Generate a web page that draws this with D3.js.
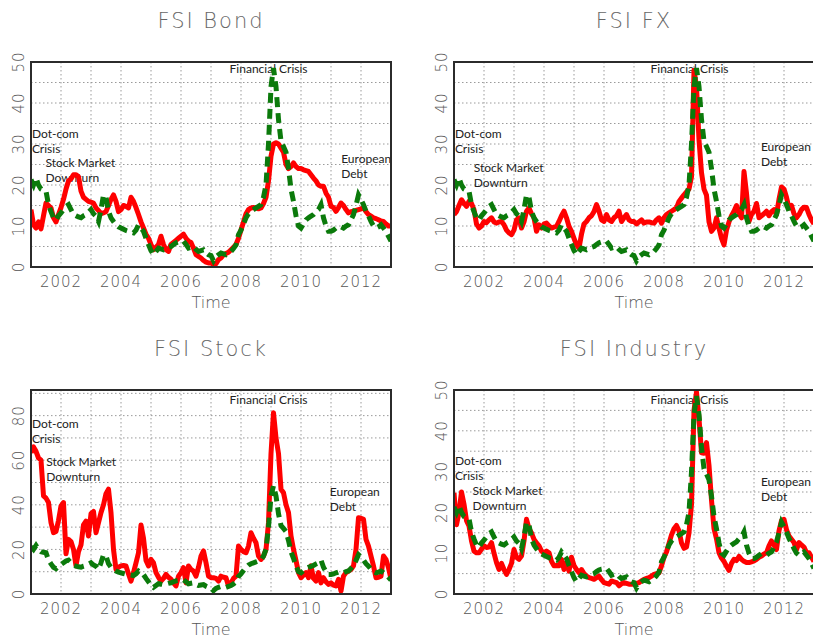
<!DOCTYPE html>
<html lang="en">
<head>
<meta charset="UTF-8">
<title>FSI panels</title>
<script src="https://d3js.org/d3.v7.min.js"></script>
<style>
  body { margin: 0; background: white; }
  .grid { stroke: #9a9a9a; stroke-width: 1px; stroke-dasharray: 1.5,2.5; fill: none; }
  .frame { stroke: #2b2b2b; stroke-width: 2px; fill: none; }
  .tick { font-family: "DejaVu Sans", sans-serif; font-weight: 300; font-size: 15px; fill: #555; letter-spacing: 1px; }
  .title { font-family: "DejaVu Sans", sans-serif; font-weight: 300; font-size: 21px; fill: #666; letter-spacing: 2px; }
  .xlab { font-family: "DejaVu Sans", sans-serif; font-weight: 300; font-size: 16px; fill: #555; }
  .note { font-family: Lato, "Open Sans", sans-serif; font-size: 12px; fill: #222; }
  .red { stroke: #ff0000; stroke-width: 5px; fill: none; stroke-linejoin: round; }
  .green { stroke: #0b7a0b; stroke-width: 5px; fill: none; stroke-dasharray: 10,6; }
</style>
</head>
<body>
<svg id="chart" width="813" height="644"></svg>
<script>
// monthly observations, Jan 2001 .. Jan 2013
const months = d3.range(145).map(i => 2001 + i / 12);

// overall FSI (green dashed, same in every panel)
const fsiAll = [
  21.3, 20, 21.7, 20, 19, 18.7, 18.5, 15.2, 13.5, 12, 11.4, 12.5,
  13.2, 14, 14.8, 15.2, 14, 12.8, 12.5, 12.2, 12, 12.5, 12.8, 13.4,
  14, 13, 12.4, 11.1, 14, 17.6, 17, 13.6, 12, 11.1, 10.3, 9.8,
  9.5, 9.2, 8.9, 8.7, 8.5, 8.3, 9, 10.3, 9.5, 8.7, 7, 5.5,
  4, 3, 3.8, 4.6, 4.4, 4.2, 4.5, 4.8, 5, 5.5, 5.9, 6.1,
  6.2, 6.3, 5.5, 4.6, 4.8, 5, 4.3, 3.8, 4, 4.2, 3.5, 3,
  2.8, 1.5, 2.5, 3, 3.4, 3.2, 3, 3.4, 3.8, 4.5, 5.4, 7.9,
  9, 10.5, 12, 13, 13.6, 14, 14.4, 14.8, 15.2, 17, 20, 30,
  44, 48.5, 44, 36, 30.7, 29.4, 28, 24, 19, 16, 12.5, 10,
  9.5, 10.5, 11.5, 12, 12.4, 12.8, 13.5, 14, 15.2, 12, 10, 8.7,
  8.7, 9, 9.5, 9.9, 9.8, 9.5, 10, 10.3, 11.5, 12.8, 15, 17.6,
  16.5, 15.2, 13.6, 12.5, 11.1, 10, 9.5, 9.8, 10.3, 9.5, 8.7, 7.5,
  6.3
];

// sector FSI (red solid)
const fsiBond = [
  14, 10.3, 9.5, 11, 9.3, 12.5, 15.6, 15, 14.4, 12, 11, 12.8,
  14.5, 16.5, 19, 21, 21.5, 22.5, 22.5, 22, 18.5, 17, 16.5, 16,
  15.8, 15.6, 14.4, 13.8, 13, 13.2, 13.5, 15, 16.5, 17.6, 16, 13.5,
  14, 15, 14.8, 14.4, 17, 16, 14.5, 12.8, 11, 9.5, 8, 7,
  5.5, 4.2, 4.8, 5.5, 7.5, 5.5, 4.2, 3.8, 5.5, 6, 6.5, 7,
  7.5, 8, 7, 6.3, 6, 4.6, 3, 2.6, 2.2, 1.6, 1.2, 1,
  1, 0.6, 0.8, 1.8, 2.2, 3, 3.3, 3.6, 4.2, 4.8, 5.5, 7,
  9, 11, 13, 14, 14.4, 14.5, 14.4, 14.2, 14.4, 15.5, 17, 21,
  27, 30, 30.3, 30, 29, 28, 25, 24, 24.5, 25.4, 24.5, 24,
  24, 23.7, 23.5, 23.3, 22.5, 21.7, 21, 20, 19.7, 19.7, 18, 17,
  14.8, 14.5, 13.6, 14.5, 15.6, 15, 14, 13.2, 13.5, 13.6, 13.8, 14,
  14.2, 14.4, 13.5, 12.8, 12.4, 12, 11.8, 11.5, 11.2, 11.1, 10.5, 10,
  10
];

const fsiFX = [
  12.8, 13.5, 15, 16.4, 15.5, 14.8, 16, 15.5, 14, 10.5, 9.5, 10,
  11.1, 10.8, 11.5, 12, 11, 10.7, 11, 11.1, 10.3, 9, 8.3, 7.9,
  9, 11.5, 12, 9.5, 11, 13.6, 14.4, 13, 12, 8.7, 10.3, 9.5,
  10.5, 10.7, 10, 9.5, 9.7, 9.9, 11.1, 12.5, 13.6, 12, 9.9, 8.7,
  7, 5.4, 4.6, 8, 10.5, 11.1, 12, 12.5, 13.5, 15.2, 13.6, 11.5,
  11.1, 12.8, 11.5, 11.1, 12, 12.5, 13.6, 11.1, 12, 12.8, 11.5, 11.1,
  11.1, 10.5, 11, 11.5, 10.7, 11, 11, 10.8, 10.7, 11.5, 12, 10.7,
  12, 12.8, 13.2, 13.6, 14, 14.4, 16, 16.8, 17.6, 18.3, 19, 22,
  48, 44, 31, 23, 19, 17.5, 11, 8.7, 9.5, 12, 9.5, 7,
  5.4, 9, 11, 12.5, 13.6, 15, 13, 12, 23.3, 18, 11.1, 12.8,
  13.6, 15.5, 12, 12.5, 13, 13.6, 12.5, 13.5, 14, 12.8, 16.5, 19.5,
  19, 17, 14.4, 15, 13, 12, 12.8, 14, 14.6, 14.5, 12.8, 11.5,
  10.5
];

const fsiStock = [
  63.4, 66, 64, 61, 60, 44, 43, 41, 32, 27.5, 28, 33,
  39.5, 41, 18, 24.5, 23.5, 20, 12.6, 19, 22, 31, 32.7, 26,
  36, 37, 27.5, 32, 36.5, 40, 45, 47, 36.5, 20, 11, 12,
  12.6, 12.8, 12.6, 9, 5.8, 9.6, 14, 18.5, 31, 25, 15, 12.6,
  15.5, 14, 9.6, 7.5, 5.8, 7, 8.8, 7.5, 6.6, 5, 3.6, 8,
  9.6, 11.8, 5, 12.6, 11, 10.3, 8, 12, 17, 19.3, 14, 8,
  7.3, 7.3, 7, 5.8, 8, 7.5, 7.3, 3.6, 5, 7, 8, 21.5,
  20, 19, 18.5, 21.5, 27.5, 25, 23, 17, 15.5, 17, 20, 32,
  63, 81.3, 70, 63, 47, 45.4, 40, 36.5, 26, 20, 15, 9.6,
  7.3, 8.5, 9.6, 7.3, 12.6, 7, 5.8, 9.6, 5, 7.3, 5.5, 4.3,
  5, 4, 3.6, 6.6, 1.3, 8, 9.6, 10.3, 11, 12.6, 20, 34.2,
  34, 33.5, 24.5, 21.5, 17, 12.6, 7.3, 7.5, 8, 17, 15.5, 11.8,
  6.6
];

const fsiIndustry = [
  24.8, 17, 20, 25, 22, 18, 16.7, 13, 10.5, 10.1, 10.1, 11,
  11.8, 11.4, 11.5, 12.6, 10, 7.7, 6, 7.5, 6, 4.8, 6, 7.5,
  10.9, 9, 8.5, 9.3, 13, 18.3, 16, 15, 13.4, 12.5, 11.8, 10.5,
  10.1, 10.5, 10.1, 8, 6.9, 7, 6.9, 8.5, 6, 7.7, 5.6, 9,
  7, 6, 5.2, 6, 5, 4.4, 4, 3.8, 3.6, 4, 4.4, 3.5,
  2.8, 2.6, 2.4, 3.2, 3, 2.8, 2, 2.5, 2.8, 2.6, 2.4, 2.4,
  2.4, 2.6, 2.8, 3.2, 3.6, 3.8, 4, 4.4, 4.8, 5, 5.2, 6.9,
  9, 10.3, 12.4, 14.5, 16, 16.8, 15.5, 12.5, 11.2, 11.5, 15, 22,
  45, 49.5, 43, 34.6, 34.5, 37.1, 31.5, 23, 16, 13.5, 10.1, 8.8,
  8, 6.8, 5.8, 7.5, 8.5, 8.2, 9.2, 8.5, 8, 7.7, 7.7, 7.9,
  8.1, 8.5, 9, 9.3, 9.8, 10.1, 11.8, 13, 12, 10.9, 15.5, 18,
  18.3, 15.8, 14.2, 13.4, 12.6, 10.9, 12.6, 12, 11.5, 10.1, 10.1, 9,
  8
];

const xTickYears = [2002, 2004, 2006, 2008, 2010, 2012];
const gridYears = d3.range(2002, 2013);

// annotation text, anchored in data units of each panel
const notesBond = [
  { lines: ["Dot-com", "Crisis"], x: 2001.03, y: 31.5 },
  { lines: ["Stock Market", "Downturn"], x: 2001.48, y: 24.4 },
  { lines: ["Financial Crisis"], x: 2007.62, y: 47.3 },
  { lines: ["European", "Debt"], x: 2011.34, y: 25.4 }
];
const notesFX = [
  { lines: ["Dot-com", "Crisis"], x: 2001.03, y: 31.5 },
  { lines: ["Stock Market", "Downturn"], x: 2001.66, y: 23.2 },
  { lines: ["Financial Crisis"], x: 2007.55, y: 47.3 },
  { lines: ["European", "Debt"], x: 2011.23, y: 28.3 }
];
const notesStock = [
  { lines: ["Dot-com", "Crisis"], x: 2001.03, y: 74.6 },
  { lines: ["Stock Market", "Downturn"], x: 2001.51, y: 57.4 },
  { lines: ["Financial Crisis"], x: 2007.62, y: 85.2 },
  { lines: ["European", "Debt"], x: 2010.96, y: 43.9 }
];
const notesIndustry = [
  { lines: ["Dot-com", "Crisis"], x: 2001.03, y: 31.5 },
  { lines: ["Stock Market", "Downturn"], x: 2001.62, y: 24.3 },
  { lines: ["Financial Crisis"], x: 2007.55, y: 46.6 },
  { lines: ["European", "Debt"], x: 2011.23, y: 26.5 }
];

const panels = [
  { title: "FSI Bond", red: fsiBond, notes: notesBond, left: 31, top: 62, right: 391, bottom: 267,
    yMax: 50, yTicks: [0, 10, 20, 30, 40, 50], yGrid: [5, 10, 15, 20, 25, 30, 35, 40, 45] },
  { title: "FSI FX", red: fsiFX, notes: notesFX, left: 454, top: 62, right: 814, bottom: 267,
    yMax: 50, yTicks: [0, 10, 20, 30, 40, 50], yGrid: [5, 10, 15, 20, 25, 30, 35, 40, 45] },
  { title: "FSI Stock", red: fsiStock, notes: notesStock, left: 31, top: 390, right: 391, bottom: 594,
    yMax: 91.5, yTicks: [0, 20, 40, 60, 80], yGrid: [10, 20, 30, 40, 50, 60, 70, 80, 90] },
  { title: "FSI Industry", red: fsiIndustry, notes: notesIndustry, left: 454, top: 390, right: 814, bottom: 594,
    yMax: 50, yTicks: [0, 10, 20, 30, 40, 50], yGrid: [5, 10, 15, 20, 25, 30, 35, 40, 45] }
];

const svg = d3.select("#chart");

panels.forEach((p, i) => {
  const x = d3.scaleLinear().domain([2001, 2013]).range([p.left, p.right]);
  const y = d3.scaleLinear().domain([0, p.yMax]).range([p.bottom, p.top]);
  const g = svg.append("g");
  const cx = (p.left + p.right) / 2;

  g.append("clipPath").attr("id", "clip" + i)
    .append("rect")
    .attr("x", p.left).attr("y", p.top)
    .attr("width", p.right - p.left).attr("height", p.bottom - p.top);

  // dotted grid
  g.selectAll(".vg").data(gridYears).join("line")
    .attr("class", "grid")
    .attr("x1", d => x(d)).attr("x2", d => x(d))
    .attr("y1", p.top).attr("y2", p.bottom);
  g.selectAll(".hg").data(p.yGrid).join("line")
    .attr("class", "grid")
    .attr("x1", p.left).attr("x2", p.right)
    .attr("y1", d => y(d)).attr("y2", d => y(d));

  // title and axis text
  g.append("text").attr("class", "title")
    .attr("x", cx).attr("y", p.top - 34)
    .attr("text-anchor", "middle").text(p.title);

  g.selectAll(".xt").data(xTickYears).join("text")
    .attr("class", "tick")
    .attr("x", d => x(d)).attr("y", p.bottom + 20)
    .attr("text-anchor", "middle").text(d => d);

  g.selectAll(".yt").data(p.yTicks).join("text")
    .attr("class", "tick")
    .attr("transform", d => `translate(${p.left - 7},${y(d)}) rotate(-90)`)
    .attr("text-anchor", "middle").text(d => d);

  g.append("text").attr("class", "xlab")
    .attr("x", cx).attr("y", p.bottom + 41)
    .attr("text-anchor", "middle").text("Time");

  // annotations (drawn under the lines)
  p.notes.forEach(n => {
    const t = g.append("text").attr("class", "note")
      .attr("x", x(n.x)).attr("y", y(n.y));
    n.lines.forEach((ln, k) => {
      t.append("tspan").attr("x", x(n.x)).attr("dy", k === 0 ? 0 : 15).text(ln);
    });
  });

  const line = d3.line().x((d, j) => x(months[j])).y(d => y(d));
  const lines = g.append("g").attr("clip-path", `url(#clip${i})`);
  lines.append("path").datum(p.red).attr("class", "red").attr("d", line);
  lines.append("path").datum(fsiAll).attr("class", "green").attr("d", line);

  g.append("rect").attr("class", "frame")
    .attr("x", p.left).attr("y", p.top)
    .attr("width", p.right - p.left).attr("height", p.bottom - p.top);
});
</script>
</body>
</html>
